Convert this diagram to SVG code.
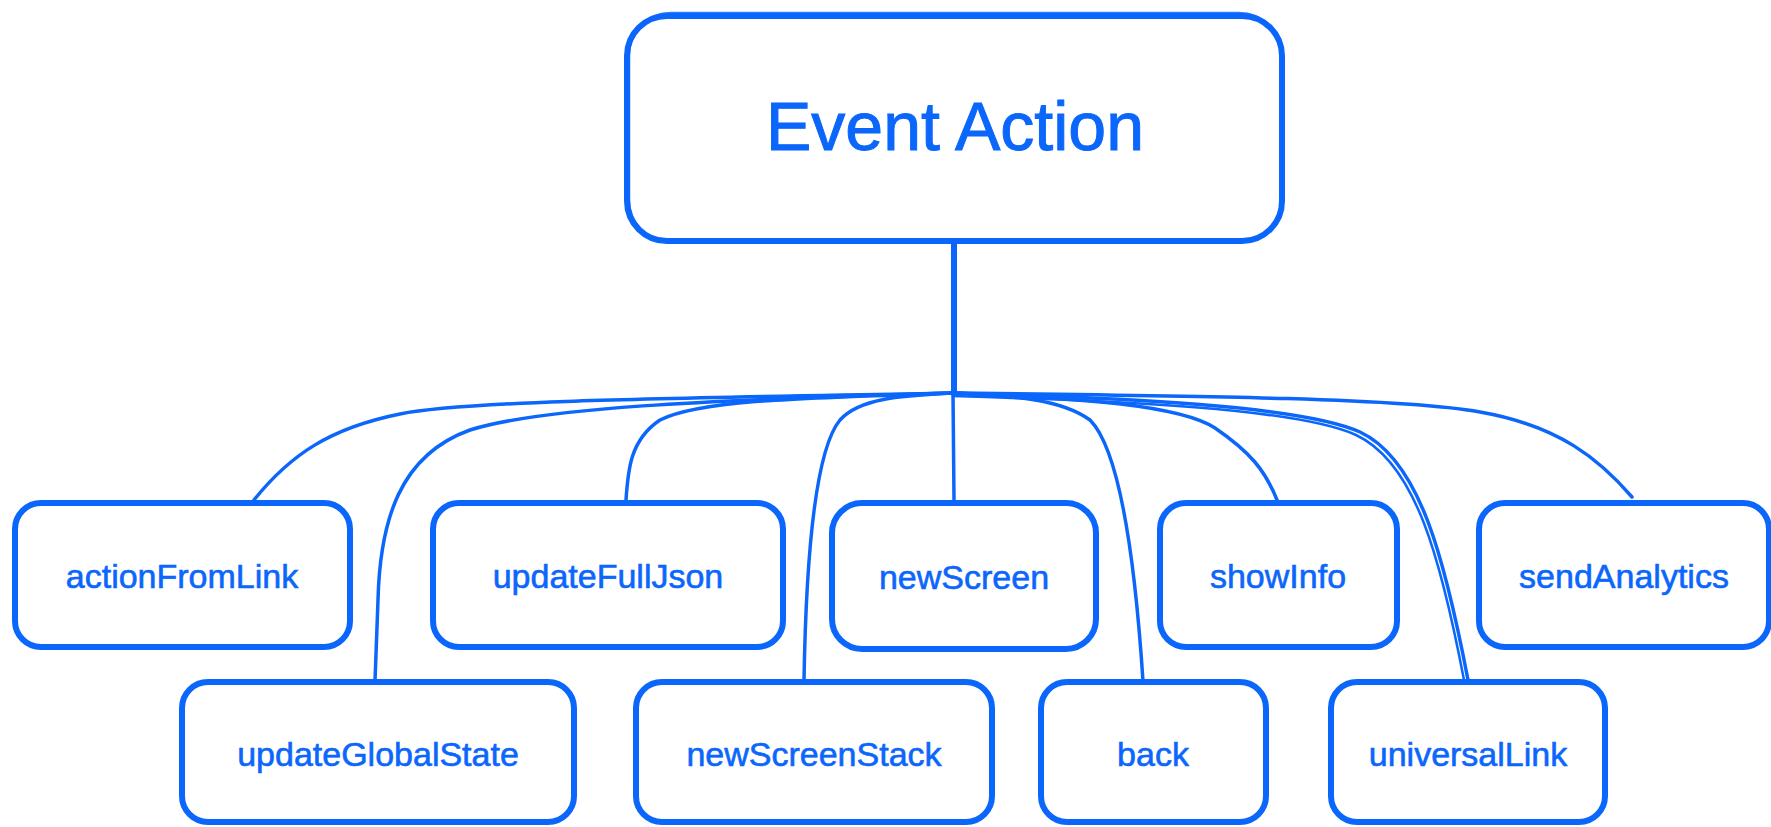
<svg xmlns="http://www.w3.org/2000/svg" width="1771" height="827" viewBox="0 0 1771 827">
<style>
.box{fill:#ffffff;stroke:#0b66fb;stroke-width:6;stroke-linejoin:round}
.box2{fill:none;stroke:#0b66fb;stroke-width:2.5;opacity:0.85}
.lbl{font-family:"Liberation Sans",Arial,sans-serif;font-size:34px;fill:#0b66fb;text-anchor:middle;stroke:#0b66fb;stroke-width:0.6}
.title{font-family:"Liberation Sans",Arial,sans-serif;font-size:68px;fill:#0b66fb;text-anchor:middle;stroke:#0b66fb;stroke-width:1}
.con{fill:none;stroke:#0b66fb;stroke-width:3.5;stroke-linecap:round}
</style>
<rect width="1771" height="827" fill="#ffffff"/>
<g id="connectors">
<path class="con" d="M954,241 L954,393" style="stroke-width:6"/>
<path class="con" d="M953,393 C 700,398 470,400 400,414 C 330,428 290,455 254,500"/>
<path class="con" d="M953,393 C 700,400 540,408 470,430 C 400,455 380,520 378,600 L 375,681"/>
<path class="con" d="M953,393 C 800,398 700,400 660,420 C 630,440 628,470 626,500"/>
<path class="con" d="M953,393 C 900,396 860,398 840,420 C 815,450 806,560 804,681"/>
<path class="con" d="M953,393 L 954,500"/>
<path class="con" d="M953,393 C 1010,396 1060,398 1090,420 C 1120,450 1135,560 1143,681"/>
<path class="con" d="M953,393 C 1080,398 1180,405 1215,428 C 1250,452 1265,470 1277,500"/>
<path class="con" d="M953,393 C 1120,398 1300,405 1360,432 C 1420,460 1445,560 1468,680"/>
<path class="con" d="M953,396 C 1120,401 1296,408 1356,435 C 1416,463 1441,560 1464,680" style="stroke-width:2.5"/>
<path class="con" d="M953,393 C 1200,396 1400,398 1480,412 C 1560,426 1600,460 1632,497"/>
</g>
<g id="event-action">
<rect class="box" x="627" y="16" width="655" height="225" rx="40"/>
<rect class="box2" x="629" y="13" width="652" height="229" rx="42"/>
<text class="title" x="955" y="150">Event Action</text>
</g>
<g id="actionFromLink">
<rect class="box" x="15" y="503" width="335" height="144" rx="26"/>
<text class="lbl" x="182" y="588">actionFromLink</text>
</g>
<g id="updateFullJson">
<rect class="box" x="433" y="503" width="350" height="144" rx="26"/>
<text class="lbl" x="608" y="588">updateFullJson</text>
</g>
<g id="newScreen">
<rect class="box" x="832" y="503" width="264" height="146" rx="30"/>
<text class="lbl" x="964" y="589">newScreen</text>
</g>
<g id="showInfo">
<rect class="box" x="1160" y="503" width="237" height="144" rx="26"/>
<text class="lbl" x="1278" y="588">showInfo</text>
</g>
<g id="sendAnalytics">
<rect class="box" x="1479" y="503" width="290" height="144" rx="26"/>
<text class="lbl" x="1624" y="588">sendAnalytics</text>
</g>
<g id="updateGlobalState">
<rect class="box" x="182" y="682" width="392" height="140" rx="26"/>
<text class="lbl" x="378" y="766">updateGlobalState</text>
</g>
<g id="newScreenStack">
<rect class="box" x="636" y="682" width="356" height="140" rx="26"/>
<text class="lbl" x="814" y="766">newScreenStack</text>
</g>
<g id="back">
<rect class="box" x="1041" y="682" width="225" height="140" rx="26"/>
<text class="lbl" x="1153" y="766">back</text>
</g>
<g id="universalLink">
<rect class="box" x="1331" y="682" width="274" height="140" rx="26"/>
<text class="lbl" x="1468" y="766">universalLink</text>
</g>
</svg>
